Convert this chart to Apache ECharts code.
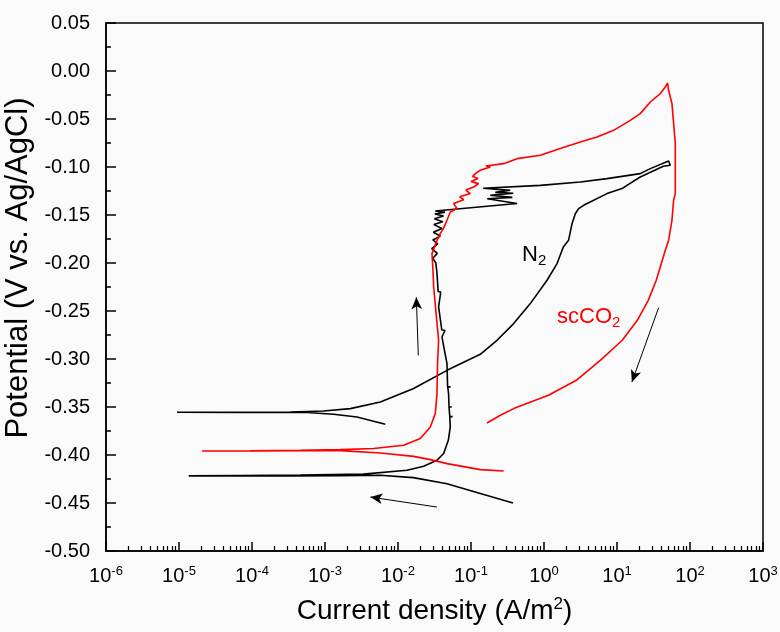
<!DOCTYPE html>
<html>
<head>
<meta charset="utf-8">
<script src="https://cdn.jsdelivr.net/npm/echarts@6/dist/echarts.min.js"></script>
<style>
html,body{margin:0;padding:0;background:#fafafa;}
#chart{width:780px;height:632px;}
</style>
</head>
<body>
<div id="chart"></div>
<script>
// ---- Data ----
// N2 (black) cyclic polarization: current density (A/m^2), potential (V vs Ag/AgCl)
var n2Current = [
  0.376, 0.134, 0.0469, 0.0162, 0.00573, 0.00162, 3.35e-4, 6.9e-5, 1.36e-5,
  6.9e-5, 4.59e-4, 3.35e-3, 0.01327, 0.02245, 0.0342, 0.0422, 0.0489, 0.0520,
  0.0512, 0.0560, 0.0512, 0.0500, 0.0545, 0.0500, 0.0493, 0.0480, 0.0525, 0.0478,
  0.0469, 0.0430, 0.0401, 0.0440, 0.0398, 0.0360, 0.0385, 0.0355, 0.0342,
  0.0330, 0.0300, 0.0345, 0.0290, 0.0350, 0.0300, 0.0380, 0.0305, 0.0400,
  0.0310, 0.0410, 0.0315, 0.0420, 0.0320, 0.0440, 0.0324,
  0.427, 0.167, 0.368, 0.1836, 0.379, 0.215, 0.345, 0.147,
  0.889, 3.14, 7.29, 20.8, 28.6, 50.9, 53.7, 43.1, 20.8, 13.7, 11.7, 7.29,
  3.49, 2.98, 2.69, 2.42, 2.17, 1.84, 1.51, 1.10, 0.649, 0.384, 0.227, 0.134,
  0.0469, 0.01637, 0.00573, 0.00222, 9.57e-4, 3.35e-4, 6.9e-5, 9.4e-6,
  6.9e-5, 5.66e-4, 1.31e-3, 2.74e-3, 6.70e-3
];
var n2Potential = [
  -0.450, -0.440, -0.430, -0.4236, -0.4211, -0.4215, -0.4218, -0.4218, -0.4217,
  -0.4213, -0.4210, -0.4199, -0.4159, -0.4118, -0.4055, -0.3985, -0.3847, -0.3708,
  -0.3600, -0.3600, -0.3598, -0.3500, -0.3500, -0.3498, -0.3360, -0.3290, -0.3290, -0.3288,
  -0.3048, -0.2900, -0.2771, -0.2700, -0.2698, -0.2458, -0.2300, -0.2298, -0.2107,
  -0.2000, -0.1950, -0.1900, -0.1850, -0.1800, -0.1760, -0.1720, -0.1680, -0.1640,
  -0.1600, -0.1570, -0.1540, -0.1510, -0.1490, -0.1470, -0.1458,
  -0.1381, -0.1331, -0.1316, -0.1295, -0.1274, -0.1264, -0.1243, -0.1222,
  -0.1191, -0.1156, -0.1121, -0.1069, -0.1017, -0.0938, -0.0982, -0.0993, -0.1104, -0.1191, -0.1225, -0.1277,
  -0.1399, -0.1433, -0.1485, -0.1590, -0.1764, -0.1833, -0.2006, -0.2180, -0.2423, -0.2631, -0.2805, -0.2951,
  -0.3118, -0.3308, -0.3448, -0.3517, -0.3542, -0.3552, -0.3555, -0.3555,
  -0.3558, -0.3558, -0.3576, -0.3604, -0.3680
];

// scCO2 (red) cyclic polarization
var co2Current = [
  0.280, 0.134, 0.0469, 0.0277, 0.01637, 0.00573, 1.62e-3, 4.59e-4, 9.5e-5, 2.07e-5,
  9.5e-5, 4.59e-4, 1.62e-3, 4.63e-3, 0.01194, 0.0202, 0.0277, 0.0324, 0.0342,
  0.0348, 0.0360, 0.0330, 0.0308, 0.0300, 0.0292, 0.0342, 0.0379, 0.0420, 0.0469, 0.0520,
  0.0643, 0.0578, 0.0793, 0.0700, 0.0977, 0.0850, 0.1087, 0.127, 0.100, 0.125, 0.105,
  0.1146, 0.134, 0.1836, 0.160, 0.280, 0.427, 0.889, 1.67, 3.14, 5.32, 8.98,
  15.2, 20.8, 28.6, 39.2, 45.9, 49.3,
  50.9, 56.6, 62.9, 62.9, 59.6, 56.6, 50.9, 45.9, 34.5, 26.8, 19.0, 11.8, 5.90,
  2.77, 1.15, 0.392, 0.252, 0.1656
];
var co2Potential = [
  -0.4167, -0.4152, -0.4090, -0.4048, -0.4014, -0.3979, -0.3954, -0.3956, -0.3958, -0.3958,
  -0.3956, -0.3951, -0.3944, -0.3933, -0.3899, -0.3829, -0.3708, -0.3569, -0.3360,
  -0.3048, -0.2805, -0.2500, -0.2250, -0.2050, -0.1902, -0.1764, -0.1694, -0.1640, -0.1555, -0.1469,
  -0.1433, -0.1381, -0.1340, -0.1310, -0.1277, -0.1240, -0.1208, -0.1173, -0.1150, -0.1120, -0.1100,
  -0.1069, -0.1034, -0.1000, -0.0990, -0.0965, -0.0913, -0.0878, -0.0808, -0.0740, -0.0688, -0.0618,
  -0.0514, -0.0444, -0.0323, -0.0235, -0.0167, -0.0125,
  -0.0201, -0.0340, -0.0756, -0.1277, -0.1347, -0.1555, -0.1764, -0.1868, -0.2180, -0.2389, -0.2597, -0.2805, -0.3014,
  -0.3222, -0.3378, -0.3514, -0.3586, -0.3667
];

// Axis tick labels
var xExponents = ['-6','-5','-4','-3','-2','-1','0','1','2','3'];
var yTickLabels = ['-0.50','-0.45','-0.40','-0.35','-0.30','-0.25','-0.20','-0.15','-0.10','-0.05','0.00','0.05'];

// Arrows (current, potential) start -> end
var arrowUp    = [[0.01897, -0.2961], [0.01782, -0.2357]];
var arrowLeft  = [[0.0342, -0.4542], [0.00418, -0.4438]];
var arrowDown  = [[37.2, -0.2465], [16.0, -0.3240]];

// ---- build ----
function zip(a, b) { var r = []; for (var i = 0; i < a.length; i++) r.push([a[i], b[i]]); return r; }

// minor tick positions in log10 space (decorative overlay axis)
var minorTicks = [];
for (var d = -6; d < 3; d++) for (var k = 2; k <= 9; k++) minorTicks.push(d + Math.log10(k));

var chart = echarts.init(document.getElementById('chart'), null, {renderer: 'canvas'});
var FONT = 'Arial, "Liberation Sans", sans-serif';

function arrowLine(p) {
  return [{coord: p[0], symbol: 'none'}, {coord: p[1], symbol: 'arrow'}];
}
var gridRect = {left: 106, right: 17, top: 23, bottom: 81};

var option = {
  animation: false,
  backgroundColor: '#fafafa',
  grid: [
    Object.assign({show: true, borderColor: '#000', borderWidth: 1.5, backgroundColor: 'transparent', containLabel: false, outerBoundsMode: 'none'}, gridRect),
    Object.assign({show: false, containLabel: false, outerBoundsMode: 'none'}, gridRect)
  ],
  xAxis: [{
    type: 'log', logBase: 10, min: 1e-6, max: 1e3, splitNumber: 10, gridIndex: 0, position: 'bottom',
    name: 'Current density (A/m{sup|2})',
    nameLocation: 'middle', nameGap: 45,
    nameTextStyle: {fontSize: 28, color: '#000', fontFamily: FONT, padding: [0, 0, 0, 0],
      rich: {sup: {fontSize: 17, padding: [0, 0, 13, 0], color: '#000', fontFamily: FONT}}},
    axisLine: {show: true, onZero: false, lineStyle: {color: '#000', width: 1.5}},
    axisTick: {show: true, inside: true, length: 9, lineStyle: {color: '#000', width: 1.5}},
    minorTick: {show: false},
    splitLine: {show: false},
    axisLabel: {
      margin: 14, color: '#000', fontSize: 20, fontFamily: FONT,
      formatter: function (v) {
        var e = Math.round(Math.log10(v));
        return '10{sup|' + xExponents[e + 6] + '}';
      },
      rich: {sup: {fontSize: 13, padding: [0, 0, 10, 0], color: '#000', fontFamily: FONT}}
    }
  }, {
    type: 'value', min: -6, max: 3, interval: 1, gridIndex: 1, position: 'bottom',
    axisLine: {show: false, onZero: false}, axisLabel: {show: false}, splitLine: {show: false},
    axisTick: {show: true, inside: true, length: 5, customValues: minorTicks, lineStyle: {color: '#000', width: 1.2}}
  }],
  yAxis: [{
    type: 'value', min: -0.5, max: 0.05, interval: 0.05, gridIndex: 0, position: 'left',
    name: 'Potential (V vs. Ag/AgCl)',
    nameLocation: 'middle', nameGap: 66,
    nameTextStyle: {fontSize: 31, color: '#000', fontFamily: FONT, padding: [0, 0, 0, 38]},
    axisLine: {show: true, onZero: false, lineStyle: {color: '#000', width: 1.5}},
    axisTick: {show: true, inside: true, length: 10, lineStyle: {color: '#000', width: 1.5}},
    minorTick: {show: true, splitNumber: 2, length: 5, lineStyle: {color: '#000', width: 1.5}},
    splitLine: {show: false},
    axisLabel: {
      margin: 16, color: '#000', fontSize: 20, fontFamily: FONT,
      formatter: function (v) {
        var i = Math.round((v + 0.5) / 0.05);
        return yTickLabels[i];
      }
    }
  }, {
    type: 'value', min: 0, max: 1, gridIndex: 1, show: false
  }],
  series: [{
    name: 'N2', type: 'line', xAxisIndex: 0, yAxisIndex: 0, showSymbol: false, symbol: 'none',
    data: zip(n2Current, n2Potential),
    lineStyle: {color: '#000', width: 1.6}, itemStyle: {color: '#000'},
    markLine: {
      silent: true, animation: false,
      symbolSize: [8, 12],
      label: {show: false},
      lineStyle: {color: '#000', width: 1, type: 'solid'},
      emphasis: {disabled: true},
      data: [arrowLine(arrowUp), arrowLine(arrowLeft), arrowLine(arrowDown)]
    }
  }, {
    name: 'scCO2', type: 'line', xAxisIndex: 0, yAxisIndex: 0, showSymbol: false, symbol: 'none',
    data: zip(co2Current, co2Potential),
    lineStyle: {color: '#ff0000', width: 1.6}, itemStyle: {color: '#ff0000'}
  }],
  graphic: [{
    type: 'text', x: 522, y: 241, silent: true,
    style: {text: 'N{sub|2}', fill: '#000', font: '22px ' + FONT,
      rich: {sub: {fontSize: 15, padding: [12, 0, 0, 0], fill: '#000', fontFamily: FONT}}}
  }, {
    type: 'text', x: 557, y: 303, silent: true,
    style: {text: 'scCO{sub|2}', fill: '#ff0000', font: '22px ' + FONT,
      rich: {sub: {fontSize: 15, padding: [12, 0, 0, 0], fill: '#ff0000', fontFamily: FONT}}}
  }]
};
chart.setOption(option);
</script>
</body>
</html>
